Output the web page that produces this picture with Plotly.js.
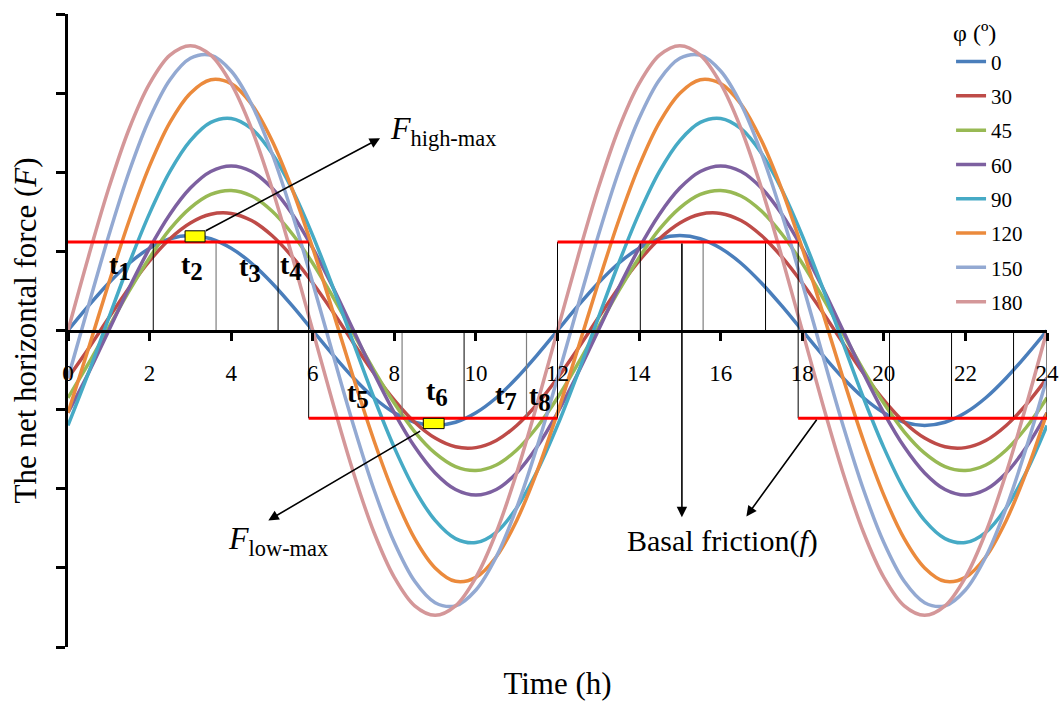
<!DOCTYPE html>
<html><head><meta charset="utf-8">
<script src="https://cdn.plot.ly/plotly-3.0.1.min.js"></script>
<style>html,body{margin:0;padding:0;background:#fff}#chart{width:1062px;height:704px}</style>
</head><body><div id="chart"></div>
<script>
// ---------- data (half-hour readings) ----------
const hours = [0,0.5,1,1.5,2,2.5,3,3.5,4,4.5,5,5.5,6,6.5,7,7.5,8,8.5,9,9.5,10,10.5,11,11.5,
               12,12.5,13,13.5,14,14.5,15,15.5,16,16.5,17,17.5,18,18.5,19,19.5,20,20.5,21,21.5,22,22.5,23,23.5,24];
const phiLabels = ['0','30','45','60','90','120','150','180'];
const phi0 = [0,0.31,0.6,0.85,1.04,1.16,1.2,1.16,1.04,0.85,0.6,0.31,
  0,-0.31,-0.6,-0.85,-1.04,-1.16,-1.2,-1.16,-1.04,-0.85,-0.6,-0.31,
  0,0.31,0.6,0.85,1.04,1.16,1.2,1.16,1.04,0.85,0.6,0.31,
  0,-0.31,-0.6,-0.85,-1.04,-1.16,-1.2,-1.16,-1.04,-0.85,-0.6,-0.31,0];
const phi30 = [-0.6,-0.23,0.16,0.54,0.88,1.16,1.36,1.47,1.48,1.39,1.2,0.93,
  0.6,0.23,-0.16,-0.54,-0.88,-1.16,-1.36,-1.47,-1.48,-1.39,-1.2,-0.93,
  -0.6,-0.23,0.16,0.54,0.88,1.16,1.36,1.47,1.48,1.39,1.2,0.93,
  0.6,0.23,-0.16,-0.54,-0.88,-1.16,-1.36,-1.47,-1.48,-1.39,-1.2,-0.93,-0.6];
const phi45 = [-0.85,-0.42,0.04,0.5,0.92,1.28,1.55,1.72,1.77,1.7,1.51,1.22,
  0.85,0.42,-0.04,-0.5,-0.92,-1.28,-1.55,-1.72,-1.77,-1.7,-1.51,-1.22,
  -0.85,-0.42,0.04,0.5,0.92,1.28,1.55,1.72,1.77,1.7,1.51,1.22,
  0.85,0.42,-0.04,-0.5,-0.92,-1.28,-1.55,-1.72,-1.77,-1.7,-1.51,-1.22,-0.85];
const phi60 = [-1.04,-0.54,0,0.54,1.04,1.47,1.8,2.01,2.08,2.01,1.8,1.47,
  1.04,0.54,0,-0.54,-1.04,-1.47,-1.8,-2.01,-2.08,-2.01,-1.8,-1.47,
  -1.04,-0.54,0,0.54,1.04,1.47,1.8,2.01,2.08,2.01,1.8,1.47,
  1.04,0.54,0,-0.54,-1.04,-1.47,-1.8,-2.01,-2.08,-2.01,-1.8,-1.47,-1.04];
const phi90 = [-1.2,-0.54,0.16,0.85,1.48,2.01,2.4,2.63,2.68,2.55,2.24,1.78,
  1.2,0.54,-0.16,-0.85,-1.48,-2.01,-2.4,-2.63,-2.68,-2.55,-2.24,-1.78,
  -1.2,-0.54,0.16,0.85,1.48,2.01,2.4,2.63,2.68,2.55,2.24,1.78,
  1.2,0.54,-0.16,-0.85,-1.48,-2.01,-2.4,-2.63,-2.68,-2.55,-2.24,-1.78,-1.2];
const phi120 = [-1.04,-0.23,0.6,1.39,2.08,2.63,3.0,3.17,3.12,2.86,2.4,1.78,
  1.04,0.23,-0.6,-1.39,-2.08,-2.63,-3.0,-3.17,-3.12,-2.86,-2.4,-1.78,
  -1.04,-0.23,0.6,1.39,2.08,2.63,3.0,3.17,3.12,2.86,2.4,1.78,
  1.04,0.23,-0.6,-1.39,-2.08,-2.63,-3.0,-3.17,-3.12,-2.86,-2.4,-1.78,-1.04];
const phi150 = [-0.6,0.31,1.2,2.01,2.68,3.17,3.44,3.48,3.28,2.86,2.24,1.47,
  0.6,-0.31,-1.2,-2.01,-2.68,-3.17,-3.44,-3.48,-3.28,-2.86,-2.24,-1.47,
  -0.6,0.31,1.2,2.01,2.68,3.17,3.44,3.48,3.28,2.86,2.24,1.47,
  0.6,-0.31,-1.2,-2.01,-2.68,-3.17,-3.44,-3.48,-3.28,-2.86,-2.24,-1.47,-0.6];
const phi180 = [0,0.93,1.8,2.55,3.12,3.48,3.6,3.48,3.12,2.55,1.8,0.93,
  0,-0.93,-1.8,-2.55,-3.12,-3.48,-3.6,-3.48,-3.12,-2.55,-1.8,-0.93,
  0,0.93,1.8,2.55,3.12,3.48,3.6,3.48,3.12,2.55,1.8,0.93,
  0,-0.93,-1.8,-2.55,-3.12,-3.48,-3.6,-3.48,-3.12,-2.55,-1.8,-0.93,0];
const series = [phi0, phi30, phi45, phi60, phi90, phi120, phi150, phi180];

// basal friction levels and the time spans where each applies
const frictionHigh = 1.12;
const frictionLow = -1.11;
const highSpans = [[0, 5.9], [12, 17.9]];
const lowSpans = [[5.9, 12], [17.9, 24]];
// interval boundaries (t1..t8)
const boundsHigh = [2.09, 5.15, 14.03, 17.1];
const boundsHighGray = [3.63, 15.57];
const boundsLow = [9.71, 20.14, 21.66, 23.18];
const boundsLowGray = [8.19, 11.24];
const switchTimes = [5.9, 12, 17.9];
const endTime = [24];
const tLabels = ['1','2','3','4','5','6','7','8'];
const tLabelX = [1.28, 3.05, 4.47, 5.47, 7.11, 9.04, 10.73, 11.57];
const tLabelY = [0.80, 0.80, 0.78, 0.80, -0.82, -0.79, -0.84, -0.85];

// ---------- styles ----------
const colors = ['#4A7EBB','#BE4B48','#98B954','#7D60A0','#46AAC5','#EB8A3C','#93A9D2','#D49799'];
const serif = 'Liberation Serif, Times New Roman, serif';

const traces = series.map((ys, i) => ({
  x: hours, y: ys, type: 'scatter', mode: 'lines', name: phiLabels[i], legendgroup: 'g' + i,
  line: {color: colors[i], width: 3.5, shape: 'spline', smoothing: 1},
  xaxis: 'x', yaxis: 'y', hoverinfo: 'skip'
}));

function segs(spans, level) {
  const x = [], y = [];
  spans.forEach(s => { x.push(s[0], s[1], null); y.push(level, level, null); });
  return {x, y};
}
function verts(xs, y0, y1) {
  const x = [], y = [];
  xs.forEach(v => { x.push(v, v, null); y.push(y0, y1, null); });
  return {x, y};
}
const hi = segs(highSpans, frictionHigh), lo = segs(lowSpans, frictionLow);
const vb1 = verts(boundsHigh, 0, frictionHigh), vb2 = verts(boundsLow, 0, frictionLow);
const vg1 = verts(boundsHighGray, 0, frictionHigh), vg2 = verts(boundsLowGray, 0, frictionLow);
const vs = verts(switchTimes, frictionHigh, frictionLow), ve = verts(endTime, 0, frictionLow);
const blackX = [].concat(vb1.x, vb2.x, vs.x, ve.x), blackY = [].concat(vb1.y, vb2.y, vs.y, ve.y);
const grayX = [].concat(vg1.x, vg2.x), grayY = [].concat(vg1.y, vg2.y);

traces.push({x: blackX, y: blackY, type:'scatter', mode:'lines', line:{color:'#000', width:1}, showlegend:false, xaxis:'x2', yaxis:'y', hoverinfo:'skip'});
traces.push({x: grayX, y: grayY, type:'scatter', mode:'lines', line:{color:'#7f7f7f', width:1.2}, showlegend:false, xaxis:'x2', yaxis:'y', hoverinfo:'skip'});
traces.push({x: hi.x.concat(lo.x), y: hi.y.concat(lo.y), type:'scatter', mode:'lines', line:{color:'#FF0000', width:3}, showlegend:false, xaxis:'x2', yaxis:'y', hoverinfo:'skip'});

const annotations = [];
tLabels.forEach((t, i) => annotations.push({
  x: tLabelX[i], y: tLabelY[i], xref:'x', yref:'y', showarrow:false,
  text: '<b>t</b><sub><b><span style="font-size:25px">' + t + '</span></b></sub>', font:{family: serif, size: 28, color:'#000'}
}));
const arrows = [
  {head:[7.65, 2.43], tail:[3.34, 1.25]},
  {head:[4.91, -2.40], tail:[8.67, -1.26]},
  {head:[15.05, -2.36], tail:[15.05, frictionHigh]},
  {head:[16.63, -2.35], tail:[18.38, frictionLow]}
];
arrows.forEach(a => annotations.push({
  x: a.head[0], y: a.head[1], ax: a.tail[0], ay: a.tail[1], xref:'x', yref:'y', axref:'x', ayref:'y',
  text:'', showarrow:true, arrowhead:2, arrowsize:1.3, arrowwidth:1.6, arrowcolor:'#000', standoff:0, startstandoff:0
}));
annotations.push({x:7.84, y:2.53, xref:'x', yref:'y', xanchor:'left', yanchor:'middle', showarrow:false,
  text:'<i>F</i><sub>high-max</sub>', font:{family:serif, size:32, color:'#000'}});
annotations.push({x:3.88, y:-2.65, xref:'x', yref:'y', xanchor:'left', yanchor:'middle', showarrow:false,
  text:'<i>F</i><sub>low-max</sub>', font:{family:serif, size:32, color:'#000'}});
annotations.push({x:13.65, y:-2.66, xref:'x', yref:'y', xanchor:'left', yanchor:'middle', showarrow:false,
  text:'Basal friction(<i>f</i>)', font:{family:serif, size:30, color:'#000'}});

const boxes = [[2.87, 3.36, frictionHigh, 1.26], [8.71, 9.22, -1.24, frictionLow]];
const shapes = boxes.map(b => ({type:'rect', xref:'x', yref:'y', x0:b[0], x1:b[1], y0:b[2], y1:b[3],
  fillcolor:'#FFFF00', line:{color:'#000', width:1}, layer:'above'}));

const layout = {
  width:1062, height:704,
  margin:{l:68, r:15, t:14, b:57, autoexpand:false},
  paper_bgcolor:'#fff', plot_bgcolor:'#fff',
  showlegend:true,
  legend:{x:0.902, xanchor:'left', y:1.006, yanchor:'top', bgcolor:'rgba(0,0,0,0)', tracegroupgap:4,
    font:{family:serif, size:21, color:'#000'},
    title:{text:'φ (º)', font:{family:serif, size:24, color:'#000'}}},
  xaxis:{range:[0,24], showline:false, showticklabels:false, ticks:'', showgrid:false, zeroline:false,
    automargin:false, fixedrange:true,
    title:{text:'Time (h)', font:{family:serif, size:31, color:'#000'}, standoff:25}},
  xaxis2:{range:[0,24], overlaying:'x', anchor:'free', position:0.5, tick0:0, dtick:2,
    ticks:'outside', ticklen:8, tickwidth:3, tickcolor:'#000', showline:true, linewidth:3.5, linecolor:'#000',
    showgrid:false, zeroline:false, automargin:false, fixedrange:true,
    tickfont:{family:serif, size:23, color:'#000'}, ticklabelstandoff:12},
  yaxis:{range:[-4,4], tick0:0, dtick:1, ticks:'outside', ticklen:9, tickwidth:3, tickcolor:'#000',
    showline:true, linewidth:3.5, linecolor:'#000', showticklabels:false, showgrid:false, zeroline:false,
    automargin:false, fixedrange:true,
    title:{text:'The net horizontal force (<i>F</i>)', font:{family:serif, size:31, color:'#000'}, standoff:10}},
  annotations: annotations,
  shapes: shapes
};
Plotly.newPlot('chart', traces, layout, {staticPlot:true, displayModeBar:false});
</script></body></html>
